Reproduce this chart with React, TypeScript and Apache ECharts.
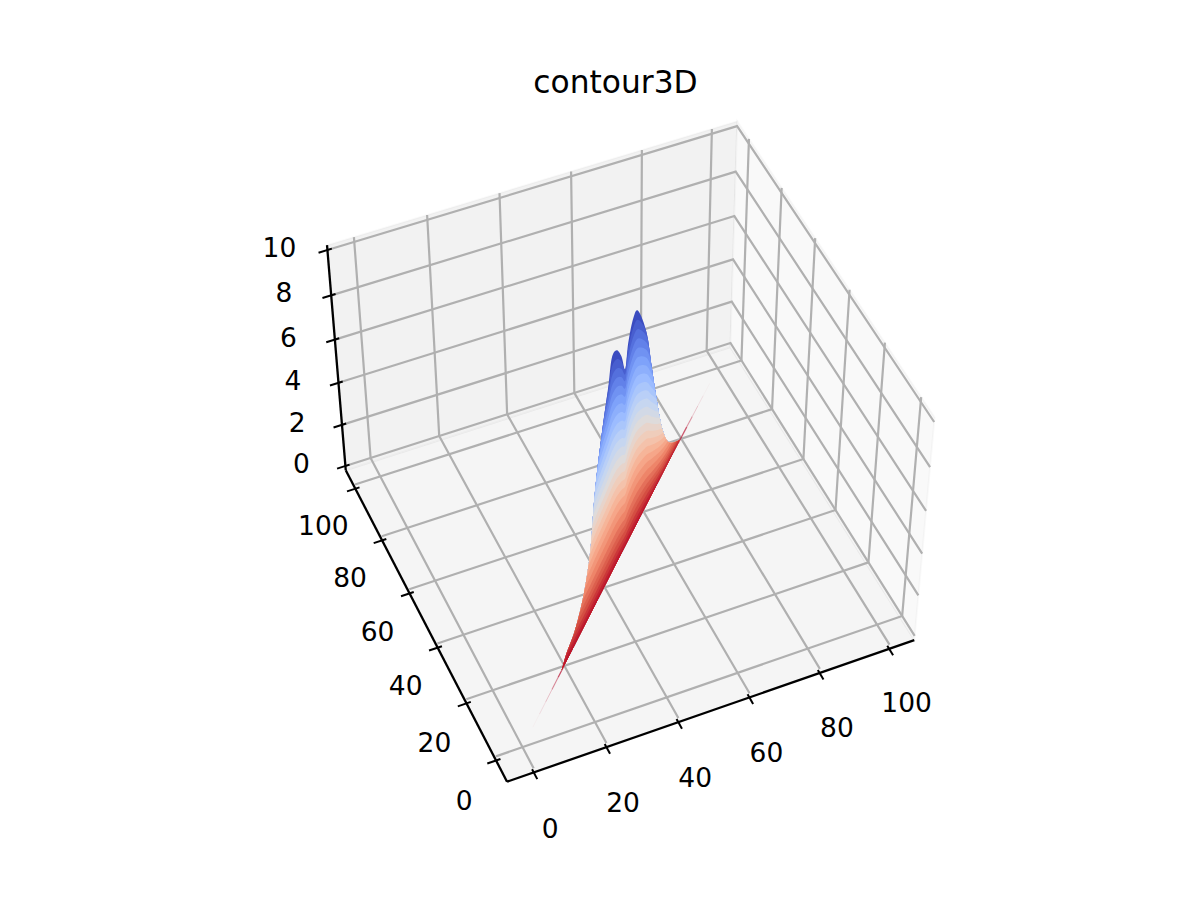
import React, { useEffect, useRef } from "react";
import * as echarts from "echarts";

const chartTitle = "contour3D";
const xTicks = [0, 20, 40, 60, 80, 100];
const yTicks = [0, 20, 40, 60, 80, 100];
const zTicks = [0, 2, 4, 6, 8, 10];
const xLimits = [-5, 105];
const yLimits = [-5, 105];
const zLimits = [0, 10];

// ridge along the diagonal x = y = t: silhouette
const outlineT = [18.6, 21.05, 25.26, 29.47, 32.96, 35.06, 36.76, 39.74, 42.25, 43.94, 46.3, 48.67, 50.41, 51.85, 54.31, 56.77, 60.98, 63.65, 66.42, 69.2, 71.97, 74.74, 79.26];
const outlineZ = [0.03, 0.39, 0.72, 1.56, 3.01, 4.99, 6.21, 7.81, 9.0, 9.97, 9.92, 9.23, 8.38, 9.29, 9.98, 9.89, 8.22, 6.25, 4.24, 2.49, 1.36, 0.73, 0.07];
// foot of the ridge on the floor
const baseT = [4.83, 19.2, 47.95, 79.26, 95.6];
const baseZ = [0, 0.03, 0.08, 0.07, 0];
// contour heights
const levels = [9.58, 9.16, 8.74, 8.32, 7.9, 7.48, 7.06, 6.64, 6.22, 5.8, 5.38, 4.96, 4.54, 4.12, 3.7, 3.28, 2.86, 2.44, 2.02, 1.6, 1.25, 0.95, 0.65, 0.4, 0.2];
// faint ends of the foot line
const lowTailT = [4.83, 8, 11, 14, 17, 20];
const lowTailOpacity = [0.06, 0.14, 0.25, 0.45, 0.7, 1];
const highTailT = [95.6, 92, 89, 86, 83, 78.5];
const highTailOpacity = [0.05, 0.12, 0.22, 0.4, 0.65, 1];

const coolwarm = ["#3b4cc0", "#5977e3", "#7b9ff9", "#9ebeff", "#c0d4f5", "#dddcdc", "#f2cbb7", "#f7ac8e", "#ee8468", "#d65244", "#b40426"];

// camera
const ELEV = (48 * Math.PI) / 180;
const AZIM = (-113.6 * Math.PI) / 180;
const DIST = 10;
const BOX = [1.142857, 1.142857, 0.857143];
const AX_LEFT = 268.5;
const AX_BOTTOM = 801;
const AX_SIZE = 693;

const u = [-Math.sin(AZIM), Math.cos(AZIM), 0];
const v = [-Math.sin(ELEV) * Math.cos(AZIM), -Math.sin(ELEV) * Math.sin(AZIM), Math.cos(ELEV)];
const w = [Math.cos(ELEV) * Math.cos(AZIM), Math.cos(ELEV) * Math.sin(AZIM), Math.sin(ELEV)];

function project(x: number, y: number, z: number): number[] {
  const d = [
    ((x - xLimits[0]) / (xLimits[1] - xLimits[0]) - 0.5) * BOX[0],
    ((y - yLimits[0]) / (yLimits[1] - yLimits[0]) - 0.5) * BOX[1],
    ((z - zLimits[0]) / (zLimits[1] - zLimits[0]) - 0.5) * BOX[2],
  ];
  const dot = (a: number[]) => a[0] * d[0] + a[1] * d[1] + a[2] * d[2];
  const den = DIST - dot(w);
  const px = dot(u) / den;
  const py = dot(v) / den;
  const span = 1.85 / DIST;
  const lo = 0.95 / DIST;
  return [AX_LEFT + ((px + lo) / span) * AX_SIZE, AX_BOTTOM - ((py + lo) / span) * AX_SIZE];
}

const xd = (xLimits[1] - xLimits[0]) / 48;
const yd = (yLimits[1] - yLimits[0]) / 48;
const zd = (zLimits[1] - zLimits[0]) / 48;
const X0 = xLimits[0] - xd, X1 = xLimits[1] + xd;
const Y0 = yLimits[0] - yd, Y1 = yLimits[1] + yd;
const Z0 = zLimits[0] - zd, Z1 = zLimits[1] + zd;
const zl = zLimits[0];

type Shape3D = { kind: "polygon" | "polyline"; pts: number[][]; fill?: string; stroke?: string; width?: number; opacity?: number };

const panes: Shape3D[] = [
  { kind: "polygon", fill: "#f5f5f5", stroke: "rgba(0,0,0,0.025)", width: 2, pts: [[X0, Y0, Z0], [X1, Y0, Z0], [X1, Y1, Z0], [X0, Y1, Z0]] },
  { kind: "polygon", fill: "#f2f2f2", stroke: "rgba(0,0,0,0.025)", width: 2, pts: [[X0, Y1, Z0], [X1, Y1, Z0], [X1, Y1, Z1], [X0, Y1, Z1]] },
  { kind: "polygon", fill: "#f9f9f9", stroke: "rgba(0,0,0,0.025)", width: 2, pts: [[X1, Y0, Z0], [X1, Y1, Z0], [X1, Y1, Z1], [X1, Y0, Z1]] },
];

const GRID = "#b0b0b0";
const GW = 2.2;
const gridLines: Shape3D[] = [
  ...xTicks.map((t) => ({ kind: "polyline" as const, stroke: GRID, width: GW, pts: [[t, Y0, zl], [t, Y1, zl], [t, Y1, Z1]] })),
  ...yTicks.map((t) => ({ kind: "polyline" as const, stroke: GRID, width: GW, pts: [[X0, t, zl], [X1, t, zl], [X1, t, Z1]] })),
  ...zTicks.map((t) => ({ kind: "polyline" as const, stroke: GRID, width: GW, pts: [[X0, Y1, t], [X1, Y1, t], [X1, Y0, t]] })),
];

const AW = 2.3;
const axisLines: Shape3D[] = [
  { kind: "polyline", stroke: "#000", width: AW, pts: [[X0, Y0, Z0], [X1, Y0, Z0]] },
  { kind: "polyline", stroke: "#000", width: AW, pts: [[X0, Y0, Z0], [X0, Y1, Z0]] },
  { kind: "polyline", stroke: "#000", width: AW, pts: [[X0, Y1, Z0], [X0, Y1, Z1]] },
  ...xTicks.map((t) => ({ kind: "polyline" as const, stroke: "#000", width: 2, pts: [[t, Y0 + 1.1, Z0], [t, Y0 - 2.3, Z0]] })),
  ...yTicks.map((t) => ({ kind: "polyline" as const, stroke: "#000", width: 2, pts: [[X0 + 1.2, t, Z0], [X0 - 2.4, t, Z0]] })),
  ...zTicks.map((t) => ({ kind: "polyline" as const, stroke: "#000", width: 2, pts: [[X0 + 1.2, Y1, t], [X0 - 2.4, Y1, t]] })),
];

function lerp1(xs: number[], ys: number[], x: number): number {
  if (x <= xs[0]) return ys[0];
  for (let i = 1; i < xs.length; i++) {
    if (x <= xs[i]) return ys[i - 1] + ((ys[i] - ys[i - 1]) * (x - xs[i - 1])) / (xs[i] - xs[i - 1]);
  }
  return ys[ys.length - 1];
}

// smooth drawing path through the read silhouette
function denseOutline(): number[][] {
  const out: number[][] = [];
  const n = outlineT.length;
  for (let i = 0; i < n - 1; i++) {
    const a = Math.max(i - 1, 0), b = i, c = i + 1, d = Math.min(i + 2, n - 1);
    for (let s = 0; s < 8; s++) {
      const q = s / 8;
      const cr = (p: number[]) =>
        0.5 * (2 * p[b] + (p[c] - p[a]) * q + (2 * p[a] - 5 * p[b] + 4 * p[c] - p[d]) * q * q + (3 * p[b] - p[a] - 3 * p[c] + p[d]) * q * q * q);
      out.push([cr(outlineT), cr(outlineZ)]);
    }
  }
  out.push([outlineT[n - 1], outlineZ[n - 1]]);
  return out;
}
const dense = denseOutline();

const PEAK_A = outlineT[10];
const END_LEFT = 0.9;
const TOP = zLimits[1];

function levelCurve(z: number): number[][] {
  const zeL = END_LEFT * z, zeR = (0.35 + 0.055 * z) * z;
  const rL = (z - zeL) / (TOP - zeL), rR = (z - zeR) / (TOP - zeR);
  return dense.map(([t, zo]) => {
    const ze = t < PEAK_A ? zeL : zeR;
    const r = t < PEAK_A ? rL : rR;
    return [t, zo <= ze ? zo : ze + (zo - ze) * r];
  });
}

function sheetPolygon(curve: number[][]): number[][] {
  const pts = curve.map(([t, h]) => [t, t, h]);
  const end = curve[curve.length - 1][0];
  for (let i = baseT.length - 1; i >= 0; i--) {
    if (baseT[i] < end && baseT[i] > curve[0][0]) pts.push([baseT[i], baseT[i], baseZ[i]]);
  }
  return pts;
}

function colorOf(z: number): string {
  return echarts.color.lerp(1 - z / TOP, coolwarm) as string;
}

const bands: Shape3D[] = [
  { kind: "polygon", fill: colorOf(TOP), pts: sheetPolygon(dense) },
  ...levels.map((z) => ({ kind: "polygon" as const, fill: colorOf(z), pts: sheetPolygon(levelCurve(z)) })),
];

function tailShapes(ts: number[], ops: number[]): Shape3D[] {
  const res: Shape3D[] = [];
  for (let i = 0; i < ts.length - 1; i++) {
    res.push({
      kind: "polyline",
      stroke: coolwarm[10],
      width: 0.6 + i * 0.16,
      opacity: ops[i],
      pts: [ts[i], ts[i + 1]].map((t) => [t, t, lerp1(baseT, baseZ, t)]),
    });
  }
  return res;
}
const tails = [...tailShapes(lowTailT, lowTailOpacity), ...tailShapes(highTailT, highTailOpacity)];

const shapes: Shape3D[] = [...panes, ...gridLines, ...axisLines, ...tails, ...bands];

type Label = { text: string; at: number[]; off: number[] };
const labels: Label[] = [
  ...xTicks.map((t) => ({ text: String(t), at: [t, Y0, Z0], off: [16.5 + 0.01 * t, 56 - 0.02 * t] })),
  ...yTicks.map((t) => ({ text: String(t), at: [X0, t, Z0], off: [-32, 39.5 - 0.03 * t] })),
  ...zTicks.map((t) => ({ text: String(t), at: [X0, Y1, t], off: [-44 - 0.4 * t, -2.5] })),
];

const FONT = "DejaVu Sans";

export default function App() {
  const ref = useRef<HTMLDivElement>(null);
  useEffect(() => {
    const chart = echarts.init(ref.current!, undefined, { renderer: "svg" });
    chart.setOption({
      animation: false,
      backgroundColor: "#ffffff",
      title: {
        text: chartTitle,
        left: 610.5,
        top: 61,
        textAlign: "center",
        textStyle: { fontFamily: FONT, fontSize: 31.3, fontWeight: "normal", color: "#000" },
      },
      grid: { left: 0, right: 0, top: 0, bottom: 0 },
      xAxis: { type: "value", min: 0, max: 1200, show: false },
      yAxis: { type: "value", min: 0, max: 900, inverse: true, show: false },
      series: [
        {
          type: "custom",
          coordinateSystem: "cartesian2d",
          clip: false,
          silent: true,
          data: shapes.map((_, i) => [i]),
          encode: { x: 0 },
          renderItem: (params: any, api: any) => {
            const s = shapes[params.dataIndex];
            const points = s.pts.map((p) => {
              const q = project(p[0], p[1], p[2]);
              return api.coord(q);
            });
            return {
              type: s.kind,
              shape: { points },
              style: {
                fill: s.kind === "polygon" ? s.fill : "none",
                stroke: s.stroke ?? null,
                lineWidth: s.width ?? 0,
                opacity: s.opacity ?? 1,
              },
            };
          },
        },
        {
          type: "custom",
          coordinateSystem: "cartesian2d",
          clip: false,
          silent: true,
          data: labels.map((_, i) => [i]),
          encode: { x: 0 },
          renderItem: (params: any, api: any) => {
            const l = labels[params.dataIndex];
            const q = project(l.at[0], l.at[1], l.at[2]);
            const c = api.coord([q[0] + l.off[0], q[1] + l.off[1]]);
            return {
              type: "text",
              style: {
                text: l.text,
                x: c[0],
                y: c[1],
                fill: "#000",
                font: `26.5px "${FONT}"`,
                align: "center",
                verticalAlign: "middle",
              },
            };
          },
        },
      ],
    });
    return () => chart.dispose();
  }, []);
  return <div ref={ref} style={{ position: "fixed", left: 0, top: 0, width: 1200, height: 900 }} />;
}
